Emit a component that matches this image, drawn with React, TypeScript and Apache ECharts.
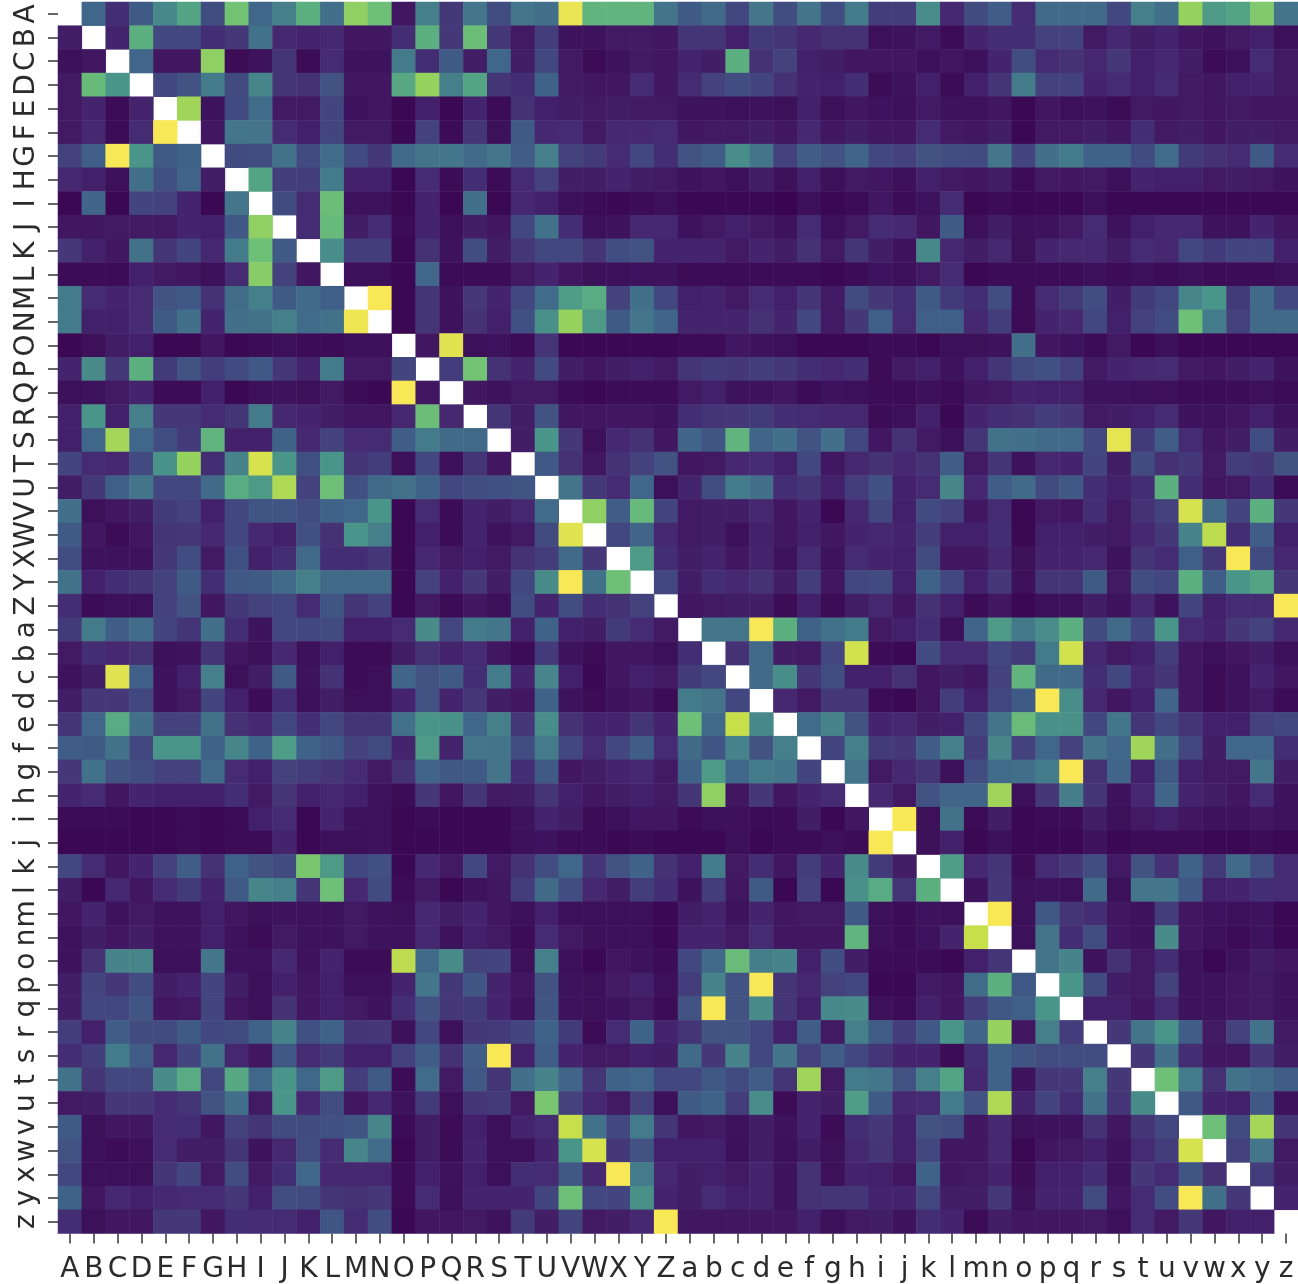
import React, { useEffect, useRef } from "react";
import * as echarts from "echarts";

const labels = "ABCDEFGHIJKLMNOPQRSTUVWXYZabcdefghijklmnopqrstuvwxyz".split("");
const _ = null;

const rA = [_,32,12,27,45,55,22,70,32,42,60,35,78,68,5,42,15,38,22,38,35,97,62,62,62,37, 27,33,20,38,22,37,22,40,17,17,47,10,21,28,11,33,33,33,20,42,35,80,52,55,74,37];
const rB = [7,_,9,60,20,20,12,15,36,10,9,10,5,5,12,60,15,67,15,6,17,4,4,6,6,5, 14,14,8,16,14,10,13,13,3,4,6,2,9,12,12,18,18,6,10,7,9,5,4,6,8,3];
const rC = [3,5,_,32,5,5,78,2,4,14,2,11,4,4,40,12,27,7,32,7,20,6,2,4,6,5, 9,7,60,13,18,8,7,5,5,5,3,5,3,9,22,11,13,10,15,8,10,7,2,3,11,6];
const rD = [6,65,50,_,20,24,40,21,44,14,13,24,5,5,57,80,42,55,14,12,30,6,5,5,11,5, 11,18,22,19,13,9,8,12,2,4,8,2,8,14,40,18,18,9,11,8,11,6,5,8,9,6];
const rE = [6,9,2,9,_,82,4,21,34,6,6,19,4,5,1,8,1,9,2,13,8,7,6,7,6,6, 4,4,3,4,3,8,3,5,4,3,6,4,4,5,1,5,3,4,2,6,5,6,5,6,5,5];
const rF = [6,10,2,11,100,_,5,38,37,11,8,19,6,6,1,18,2,14,3,27,10,11,6,10,10,11, 5,6,6,7,5,10,5,7,5,5,11,6,5,7,1,6,6,7,5,12,6,7,5,7,7,6];
const rG = [18,29,100,50,27,30,_,21,22,36,21,34,21,15,33,37,38,33,38,28,42,18,16,11,20,12, 24,28,47,37,18,28,24,31,20,18,24,22,21,38,19,35,40,30,30,21,34,16,13,11,26,11];
const rH = [10,8,3,35,23,31,7,_,55,17,17,40,8,8,1,11,2,12,2,11,18,7,7,9,7,6, 4,5,3,7,3,8,3,6,5,3,8,6,5,7,2,6,5,6,3,9,8,8,6,7,6,4];
const rI = [1,31,1,19,18,9,1,38,_,21,11,67,4,4,1,9,1,35,1,10,8,3,2,1,2,3, 1,1,1,1,0,3,1,2,5,2,4,11,1,2,1,1,1,3,1,1,1,1,1,1,1,1];
const rJ = [5,5,6,6,6,9,8,26,78,_,11,65,7,11,2,9,3,7,5,20,36,12,3,4,10,10, 4,6,8,6,4,11,3,6,11,10,5,27,3,7,3,4,6,11,4,8,10,10,4,4,9,5];
const rK = [15,8,5,36,14,19,10,40,68,27,_,47,17,17,1,13,4,22,7,15,20,20,14,22,24,9, 9,9,6,9,7,13,6,14,7,4,45,10,7,10,3,9,10,10,7,11,10,20,16,19,19,8];
const rL = [2,2,2,8,6,5,3,11,76,18,5,_,3,3,1,32,2,2,2,6,9,5,3,3,4,4, 2,2,2,2,2,2,1,2,4,3,6,11,1,2,2,2,2,3,2,3,2,3,2,2,2,3];
const rM = [40,11,9,11,24,26,13,34,42,27,33,29,_,100,1,14,4,15,9,20,34,53,58,18,35,20, 8,9,6,11,8,14,6,21,15,12,27,16,12,22,2,11,16,22,7,16,20,44,50,16,33,20];
const rN = [40,8,8,11,27,35,9,35,36,42,34,36,98,_,1,14,4,13,8,23,48,80,52,27,38,31, 9,9,9,13,9,20,6,15,29,11,29,29,10,17,2,9,10,20,8,18,22,68,40,18,33,33];
const rO = [1,3,7,8,1,1,5,1,2,3,2,2,3,3,_,5,95,3,4,2,14,1,1,1,1,1, 2,2,5,4,3,1,1,1,2,2,1,3,3,4,35,5,4,2,6,1,3,1,1,1,1,1];
const rP = [9,46,15,60,16,24,17,21,26,15,9,40,6,6,19,_,17,70,13,9,21,7,5,7,8,6, 14,16,15,17,15,12,10,12,2,6,8,4,8,14,21,23,18,6,9,10,11,6,5,7,9,4];
const rQ = [3,4,6,9,2,2,8,1,3,4,3,6,2,1,100,5,_,5,4,6,6,2,1,2,2,2, 6,8,4,4,5,2,4,3,2,2,3,2,5,6,9,8,8,4,4,3,3,2,2,2,3,2];
const rR = [8,50,8,42,15,15,11,14,40,10,9,7,5,5,10,67,10,_,14,7,24,5,5,5,5,4, 12,14,15,16,12,11,10,10,2,3,8,1,9,12,13,17,15,6,7,8,11,4,4,5,8,4];
const rS = [8,32,83,32,22,16,62,8,8,30,10,18,11,11,28,40,33,33,_,7,50,15,3,10,13,5, 31,25,62,31,35,24,35,20,5,13,6,3,14,36,35,33,33,20,96,16,28,11,5,7,22,7];
const rT = [19,11,10,21,49,80,12,43,93,50,23,50,14,17,3,20,3,14,5,_,26,13,5,13,18,24, 5,6,10,11,8,20,5,10,13,10,13,28,6,14,4,10,9,19,7,21,13,15,6,17,15,24];
const rU = [7,15,29,37,20,20,33,58,52,85,18,68,23,33,36,30,20,22,23,25,_,37,15,11,32,3, 9,22,40,35,12,14,8,17,23,8,11,44,10,28,33,21,26,12,8,12,60,12,5,6,12,2];
const rV = [35,3,5,7,16,18,8,20,25,25,22,30,32,50,1,11,2,9,7,10,34,_,78,28,65,19, 6,7,7,10,5,9,1,10,20,8,21,18,5,11,1,6,5,12,6,13,18,93,33,19,60,15];
const rW = [27,5,2,5,14,15,10,20,10,8,23,13,50,42,1,8,2,9,4,6,21,95,_,20,31,10, 6,7,3,8,5,8,5,9,10,9,17,8,8,12,1,8,8,7,6,10,15,43,88,12,28,8];
const rX = [22,4,4,4,15,22,6,23,8,12,33,12,12,15,1,10,6,8,6,13,17,33,15,_,52,12, 7,9,5,9,4,11,4,11,9,8,21,5,5,10,3,9,9,10,4,14,11,29,15,100,21,10];
const rY = [36,8,12,14,18,27,12,26,27,33,42,33,33,33,1,18,8,15,7,20,46,100,36,68,_,20, 7,12,10,13,7,17,5,20,21,8,30,20,8,15,3,14,14,27,6,22,20,60,28,50,55,14];
const rZ = [12,2,3,3,18,24,5,15,18,20,11,25,14,18,1,6,2,5,3,22,9,22,12,13,18,_, 5,6,7,7,2,8,2,7,10,5,13,8,2,5,1,3,3,7,4,10,4,19,8,11,11,100];
const ra = [16,40,28,34,19,14,35,12,4,20,20,21,8,8,11,46,20,40,38,8,30,8,7,16,11,6, _,38,38,100,60,30,36,40,6,8,12,3,31,52,39,47,60,21,33,20,50,11,9,15,18,10];
const rb = [6,12,10,13,3,4,14,5,3,10,3,8,2,2,7,13,9,11,5,2,16,4,2,5,5,3, 12,_,13,33,7,6,20,92,2,1,21,11,11,20,16,40,92,10,6,8,17,5,3,5,7,3];
const rc = [4,7,95,29,4,8,42,3,7,27,4,13,2,3,31,24,27,12,40,9,44,8,1,5,8,6, 16,20,_,33,47,15,22,8,8,13,5,7,5,18,62,33,33,12,20,10,14,5,2,4,9,5];
const rd = [7,15,15,20,4,6,19,8,2,12,3,7,3,3,9,24,9,15,7,5,30,4,2,4,5,2, 40,37,20,_,10,6,15,15,2,1,5,17,8,20,27,100,47,10,5,8,31,5,2,4,6,2];
const re = [14,32,58,35,18,18,36,13,10,20,12,20,14,14,36,50,48,32,42,15,47,13,9,9,14,9, 68,33,90,45,_,34,43,24,9,10,7,8,20,37,66,48,48,20,38,14,20,14,8,8,18,20];
const rf = [28,27,36,20,50,50,30,44,30,53,30,26,18,21,9,52,9,38,37,22,40,20,11,20,28,11, 33,25,43,24,42,_,19,42,16,15,28,42,17,44,18,32,18,37,32,82,35,20,7,32,32,12];
const rg = [15,36,24,22,18,18,33,11,8,18,17,14,11,6,13,31,26,27,37,12,27,5,7,9,10,6, 30,52,32,40,38,19,_,38,6,10,14,3,22,34,35,40,100,13,31,8,27,8,6,6,38,7];
const rh = [9,11,5,9,8,8,8,12,6,14,8,10,8,4,2,15,5,14,6,7,14,8,5,7,8,6, 14,78,5,15,5,9,11,_,10,6,24,31,31,82,3,15,41,14,4,10,31,9,7,5,11,4];
const ri = [2,2,2,1,1,2,1,2,8,11,1,9,4,4,1,2,1,1,1,4,9,7,2,3,5,5, 2,3,3,2,2,7,1,5,_,100,3,36,2,7,1,2,2,7,3,6,8,5,4,4,5,4];
const rj = [1,1,1,1,1,2,1,2,2,9,1,3,3,4,1,1,1,1,1,3,4,2,2,1,2,1, 1,1,3,1,2,2,3,2,100,_,3,8,1,3,1,1,1,4,1,2,2,2,1,1,2,1];
const rk = [20,11,5,9,18,28,13,30,24,21,72,52,20,23,1,10,6,20,6,13,22,32,14,24,30,13, 8,40,6,12,5,17,9,46,16,7,_,53,10,14,2,11,15,22,6,24,13,30,16,33,22,11];
const rl = [7,1,10,5,11,16,9,27,44,42,14,68,10,21,2,6,1,4,5,17,33,22,10,7,17,12, 4,17,5,27,1,18,1,48,58,14,60,_,4,15,3,4,3,33,3,38,38,26,8,9,12,11];
const rm = [5,9,4,6,4,4,8,5,3,4,4,4,6,4,3,10,7,9,5,3,8,3,3,3,3,1, 7,9,4,9,5,6,6,27,3,2,4,3,_,100,3,26,14,12,5,4,17,5,4,3,4,1];
const rn = [4,7,5,7,4,4,8,4,2,6,4,4,6,4,4,10,4,8,6,2,11,6,3,3,3,1, 9,9,6,11,5,5,5,62,3,2,4,9,90,_,3,37,12,22,5,4,46,5,3,2,4,1];
const ro = [4,13,43,44,3,3,38,4,4,10,4,9,2,2,88,33,46,18,19,3,42,3,1,5,4,2, 20,33,66,41,43,8,22,7,2,2,2,1,8,14,_,37,43,4,13,6,12,4,1,4,7,5];
const rp = [7,19,15,22,7,9,19,7,3,8,5,8,3,3,9,38,15,25,9,5,24,4,3,6,8,3, 17,43,24,100,14,10,18,20,1,1,6,5,34,60,26,_,50,21,7,6,18,4,4,5,6,4];
const rq = [7,20,20,25,5,6,19,5,3,13,5,8,6,4,12,24,15,16,9,4,25,4,3,4,6,2, 24,100,24,46,14,8,45,46,3,2,8,5,17,26,29,50,_,8,8,5,11,4,4,5,6,4];
const rr = [17,8,28,21,21,27,20,21,30,43,23,30,14,15,3,20,3,15,16,19,30,16,2,11,30,9, 14,24,24,20,8,28,6,42,28,17,26,50,31,80,5,42,17,_,15,37,50,28,6,18,36,6];
const rs = [12,17,40,28,10,19,36,10,5,26,11,16,8,8,18,28,13,28,100,8,28,9,6,6,8,7, 33,15,43,20,37,18,28,20,14,9,9,2,12,30,25,22,22,22,_,15,35,12,5,5,15,7];
const rt = [36,14,20,20,46,58,20,57,32,50,32,52,17,27,2,34,6,26,14,35,43,31,14,30,32,20, 20,26,21,28,14,82,6,40,38,24,42,55,10,30,4,15,15,42,15,_,68,40,13,36,33,28];
const ru = [6,7,15,15,11,14,24,35,6,50,10,22,5,10,4,16,3,14,16,6,72,18,10,6,18,3, 27,30,17,47,2,9,7,53,27,10,11,40,24,85,9,19,12,36,14,46,_,26,9,8,26,4];
const rv = [27,3,5,5,11,12,5,18,14,21,21,23,25,44,2,7,2,8,3,9,11,90,36,20,40,14, 5,6,4,7,4,9,2,12,15,8,24,22,5,10,3,4,4,13,5,14,20,_,68,21,83,14];
const rw = [24,3,2,3,11,7,7,14,4,10,22,11,44,34,1,7,2,9,3,3,9,50,93,15,24,8, 8,8,3,7,3,7,3,10,14,8,20,5,5,10,1,5,6,8,4,11,17,93,_,18,38,6];
const rx = [20,3,3,3,14,19,6,22,6,12,32,10,10,10,2,8,4,8,3,12,11,26,10,100,40,10, 7,8,6,9,4,13,3,9,8,5,30,5,6,9,2,8,8,12,4,15,11,25,13,_,17,7];
const ry = [30,5,10,8,10,11,11,15,8,22,21,14,13,15,2,11,3,9,9,9,19,68,20,19,48,9, 7,11,8,9,4,13,14,14,9,9,20,7,7,15,3,9,9,21,5,11,22,100,35,15,_,9];
const rz = [12,3,5,5,15,15,5,12,11,11,8,25,11,22,1,5,5,6,4,16,7,19,6,7,10,100, 5,5,5,5,5,8,3,6,7,4,12,9,2,7,5,5,5,6,3,11,6,15,5,8,8,_];

const rows = [
  rA, rB, rC, rD, rE, rF, rG, rH, rI, rJ, rK, rL, rM, rN, rO, rP, rQ, rR, rS, rT, rU, rV, rW, rX, rY, rZ,
  ra, rb, rc, rd, re, rf, rg, rh, ri, rj, rk, rl, rm, rn, ro, rp, rq, rr, rs, rt, ru, rv, rw, rx, ry, rz,
];

const ramp = ["#3a0550", "#452870", "#42487f", "#3f6289", "#447b8a", "#4a9589", "#5cb080", "#73c375", "#96d25e", "#c8df4c", "#f9e855"];

export default function App() {
  const ref = useRef<HTMLDivElement>(null);
  useEffect(() => {
    document.body.style.margin = "0";
    document.body.style.background = "#fff";
    const chart = echarts.init(ref.current!, undefined, { renderer: "svg" });
    const cells: [number, number, number][] = [];
    rows.forEach((row, y) => row.forEach((v, x) => { if (v !== null) cells.push([x, y, v]); }));
    const axisCommon = {
      type: "category" as const,
      data: labels,
      axisLine: { show: false },
      axisTick: { show: true, alignWithLabel: true, interval: 0, length: 10, lineStyle: { color: "#333", width: 1.5 } },
      splitArea: { show: false },
      splitLine: { show: false },
    };
    const labelCommon = {
      interval: 0,
      hideOverlap: false,
      fontFamily: "DejaVu Sans",
      fontSize: 28,
      color: "#2b2b2b",
    };
    chart.setOption({
      animation: false,
      backgroundColor: "#fff",
      grid: { left: 58, top: 2, width: 1240, height: 1231.5, containLabel: false },
      xAxis: {
        ...axisCommon,
        position: "bottom",
        axisLabel: { ...labelCommon, margin: 20 },
      },
      yAxis: {
        ...axisCommon,
        inverse: true,
        axisLabel: { ...labelCommon, rotate: 90, margin: 20 },
      },
      visualMap: { show: false, min: 0, max: 100, dimension: 2, calculable: false, inRange: { color: ramp } },
      series: [
        {
          type: "heatmap",
          data: cells,
          progressive: 0,
          itemStyle: { borderWidth: 0 },
          emphasis: { disabled: true },
          label: { show: false },
        },
      ],
    });
    return () => chart.dispose();
  }, []);
  return <div ref={ref} style={{ width: 1298, height: 1284, filter: "blur(0.6px)" }} />;
}
